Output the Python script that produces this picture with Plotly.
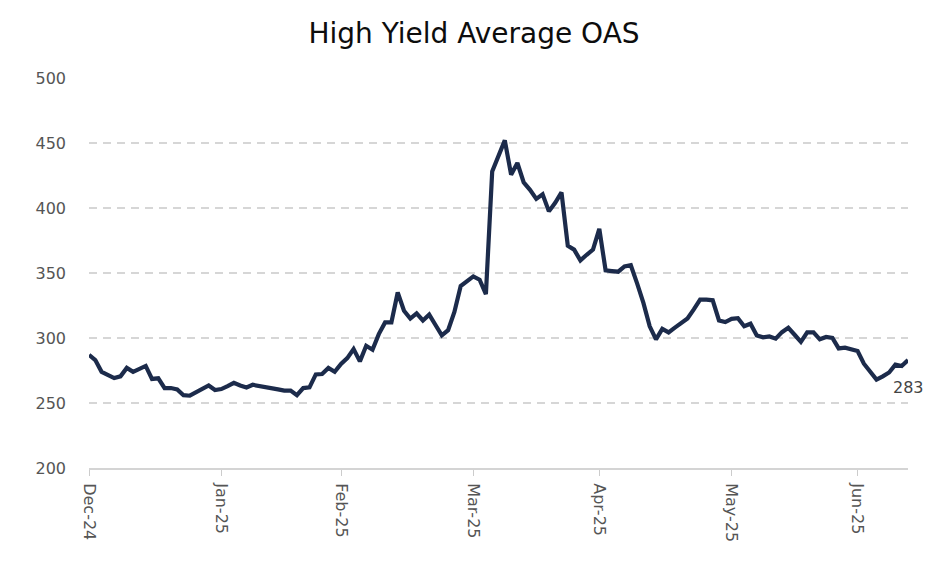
import plotly.graph_objects as go

# High Yield Average OAS (bp), one value per trading day
oas = [
    287, 283, 274, 272, 269.2, 270.5, 277, 274, 276, 278.5,
    268.5, 269, 261.5, 261.5, 260.5, 256, 255.6, 258.5, 261.5, 263.5,
    260, 260.7, 263, 265.5, 263.5, 262, 264, 263.3, 262.6, 262,
    260.5, 259.5, 259.5, 256, 261.5, 262, 272, 272.3, 277, 274,
    280, 284.5, 291.5, 282, 294, 291, 303, 312, 312, 335,
    321, 315, 319, 313.5, 318, 310, 302, 306, 320, 340,
    344, 347.4, 344.8, 333.8, 428.2, 440, 452, 425.6, 434.6, 419.7,
    414, 407, 410.5, 397.4, 404, 412, 371, 368, 359.7, 364,
    368, 384, 352, 351.5, 351, 355, 356, 342, 327, 309,
    299, 307, 304.3, 308, 311.5, 315, 322, 329.5, 329.5, 329,
    313.5, 312.3, 314.7, 315.2, 309, 311, 302, 300.5, 301.2, 299.5,
    304.5, 307.8, 302.5, 297, 304.3, 304.3, 299, 300.8, 300, 292,
    292.5, 291, 290, 280.2, 274, 268, 270.5, 273.5, 279.5, 278.5,
    283,
]
day_index = list(range(len(oas)))

month_tick_index = [0, 21, 40, 61, 81, 102, 122]
month_labels = ["Dec-24", "Jan-25", "Feb-25", "Mar-25", "Apr-25", "May-25", "Jun-25"]

y_ticks = [200, 250, 300, 350, 400, 450, 500]

LINE = "#1c2b4b"
FONT = "DejaVu Sans, Liberation Sans, Arial, sans-serif"

fig = go.Figure()
fig.add_trace(go.Scatter(
    x=day_index, y=oas, mode="lines",
    line=dict(color=LINE, width=4.2),
    hoverinfo="skip", showlegend=False,
))

fig.add_annotation(
    x=day_index[-1], y=oas[-1], text=f"{oas[-1]:.0f}",
    showarrow=False, xanchor="center", yanchor="middle",
    yshift=-27, font=dict(family=FONT, size=16, color="#444444"),
)

fig.update_layout(
    width=944, height=582,
    margin=dict(l=80.5, r=44, t=70, b=122, autoexpand=False),
    paper_bgcolor="white", plot_bgcolor="white",
    title=dict(
        text="High Yield Average OAS", x=(474 - 8) / 944, xanchor="center",
        y=1 - 25 / 582, yanchor="middle",
        font=dict(family=FONT, size=28, color="#0d0d0d"),
    ),
    font=dict(family=FONT, size=16, color="#555555"),
)

fig.update_xaxes(
    range=[0, day_index[-1]],
    tickmode="array", tickvals=month_tick_index, ticktext=month_labels,
    tickangle=90, ticks="outside", ticklen=6, tickwidth=1, tickcolor="#cccccc",
    showline=True, linecolor="#d4d4d4", linewidth=2,
    showgrid=False, zeroline=False,
    tickfont=dict(family=FONT, size=16, color="#555555"),
    ticklabelstandoff=4,
)
fig.update_yaxes(
    range=[200, 500],
    tickmode="array", tickvals=y_ticks,
    showgrid=True, gridcolor="#d6d6d6", gridwidth=1.5, griddash="8px,6px",
    zeroline=False, showline=False, ticks="",
    tickfont=dict(family=FONT, size=16, color="#555555"),
    ticklabelstandoff=22,
)

fig.write_html("out.html")
